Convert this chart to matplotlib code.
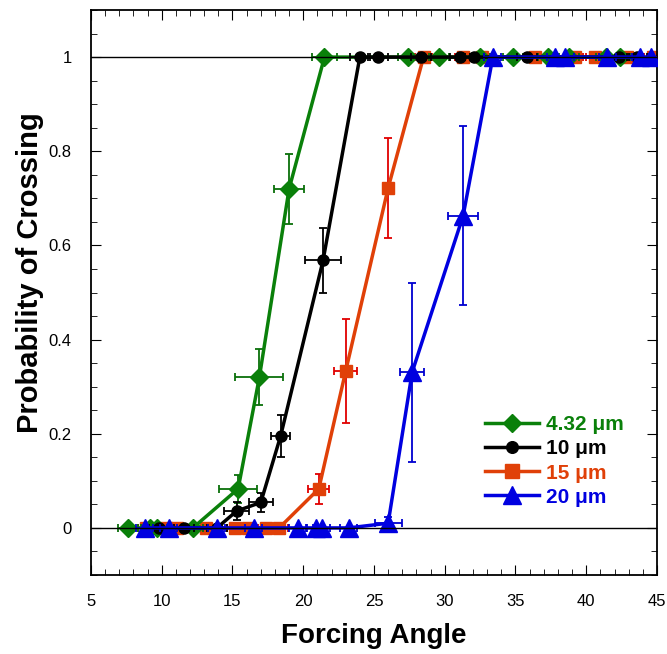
import matplotlib.pyplot as plt
from matplotlib.ticker import MultipleLocator, FixedLocator

plt.rcParams['font.family'] = ['Liberation Sans', 'DejaVu Sans']

# 4.32 um
green_x = [7.6, 9.2, 9.7, 12.2, 15.4, 16.9, 19.0, 21.5, 27.4, 29.6, 32.5, 34.8, 37.3, 38.8, 41.4, 42.4]
green_y = [0, 0, 0, 0, 0.083, 0.32, 0.72, 1, 1, 1, 1, 1, 1, 1, 1, 1]
green_xerr = [0.7, 0.7, 0.7, 0.7, 1.35, 1.7, 1.05, 0.9, 0.7, 0.7, 0.7, 0.7, 0.7, 0.7, 0.7, 0.7]
green_yerr = [0, 0, 0, 0, 0.03, 0.06, 0.075, 0, 0, 0, 0, 0, 0, 0, 0, 0]

# 10 um
black_x = [9.8, 11.6, 13.9, 15.3, 17.0, 18.4, 21.4, 24.0, 25.3, 28.3, 31.1, 32.1, 35.8, 42.3, 43.6]
black_y = [0, 0, 0, 0.036, 0.054, 0.195, 0.568, 1, 1, 1, 1, 1, 1, 1, 1]
black_xerr = [0.7, 0.7, 0.7, 0.9, 0.85, 0.7, 1.27, 0.7, 0.7, 0.7, 0.7, 0.7, 0.7, 0.7, 0.7]
black_yerr = [0, 0, 0, 0.02, 0.02, 0.045, 0.07, 0, 0, 0, 0, 0, 0, 0, 0]

# 15 um
orange_x = [8.9, 10.3, 11.1, 13.1, 15.2, 16.1, 17.4, 18.3, 21.1, 23.0, 26.0, 28.5, 31.3, 32.6, 36.4, 39.2, 40.6, 42.9, 44.7]
orange_y = [0, 0, 0, 0, 0, 0, 0, 0, 0.083, 0.333, 0.722, 1, 1, 1, 1, 1, 1, 1, 1]
orange_xerr = [0.6, 0.6, 0.6, 0.6, 0.6, 0.6, 0.6, 0.6, 0.75, 0.8, 0.3, 0.6, 0.6, 0.6, 0.6, 0.6, 0.6, 0.6, 0.6]
orange_yerr = [0, 0, 0, 0, 0, 0, 0, 0, 0.032, 0.11, 0.106, 0, 0, 0, 0, 0, 0, 0, 0]

# 20 um
blue_x = [8.8, 10.5, 13.9, 16.5, 19.6, 20.9, 21.3, 23.2, 26.0, 27.7, 31.3, 33.4, 37.8, 38.5, 41.5, 43.8, 44.6]
blue_y = [0, 0, 0, 0, 0, 0, 0, 0, 0.01, 0.331, 0.663, 1, 1, 1, 1, 1, 1]
blue_xerr = [0.6, 0.6, 0.6, 0.6, 0.6, 0.6, 0.6, 0.6, 0.95, 0.86, 1.08, 0.6, 0.6, 0.6, 0.6, 0.6, 0.6]
blue_yerr = [0, 0, 0, 0, 0, 0, 0, 0, 0.013, 0.19, 0.19, 0, 0, 0, 0, 0, 0]

labels = ['4.32 \u03bcm', '10 \u03bcm', '15 \u03bcm', '20 \u03bcm']

fig = plt.figure(figsize=(6.67, 6.54), dpi=100)
ax = fig.add_axes([0.1364, 0.1208, 0.8486, 0.8639])

series = [
    # (x, y, xerr, yerr, line colour, error colour, marker, size, label index, zorder)
    (orange_x, orange_y, orange_xerr, orange_yerr, '#e04008', '#e00000', 's', 9, 2, 2),
    (green_x, green_y, green_xerr, green_yerr, '#0a800a', '#0a700a', 'D', 9, 0, 3),
    (black_x, black_y, black_xerr, black_yerr, 'black', 'black', 'o', 8, 1, 4),
    (blue_x, blue_y, blue_xerr, blue_yerr, '#0000e0', '#0000d0', '^', 13, 3, 5),
]
handles = {}
for x, y, xe, ye, col, ecol, mk, ms, li, z in series:
    ax.errorbar(x, y, xerr=xe, yerr=ye, fmt='none', ecolor=ecol, elinewidth=1.3,
                capsize=3, capthick=1.3, zorder=z)
    h, = ax.plot(x, y, color=col, marker=mk, markersize=ms, linewidth=2.5, zorder=z)
    handles[li] = h

ax.axhline(0, color='black', linewidth=1, zorder=6)
ax.axhline(1, color='black', linewidth=1, zorder=6)

ax.set_xlim(5, 45)
ax.set_ylim(-0.1, 1.1)
ax.xaxis.set_major_locator(MultipleLocator(5))
ax.xaxis.set_minor_locator(MultipleLocator(1))
ax.yaxis.set_major_locator(FixedLocator([0, 0.2, 0.4, 0.6, 0.8, 1]))
ax.yaxis.set_minor_locator(MultipleLocator(0.05))
ax.set_yticklabels(['0', '0.2', '0.4', '0.6', '0.8', '1'])
ax.tick_params(which='both', direction='in', top=True, right=True, labelsize=12, pad=14)
ax.tick_params(which='major', length=7)
ax.tick_params(which='minor', length=4)
for s in ax.spines.values():
    s.set_linewidth(1.3)

ax.set_xlabel('Forcing Angle', fontsize=20, fontweight='bold', labelpad=10)
ax.set_ylabel('Probability of Crossing', fontsize=21, fontweight='bold')
ax.yaxis.set_label_coords(-0.083, 0.536)

leg = ax.legend([handles[i] for i in range(4)], labels, loc='lower left',
                bbox_to_anchor=(0.681, 0.106), frameon=False, handlelength=2.6,
                handletextpad=0.35, labelspacing=0.25, borderaxespad=0,
                markerscale=1.05, prop={'weight': 'bold', 'size': 15})
for t, h in zip(leg.get_texts(), [handles[i] for i in range(4)]):
    t.set_color(h.get_color())

fig.savefig('out.png', dpi=100)
